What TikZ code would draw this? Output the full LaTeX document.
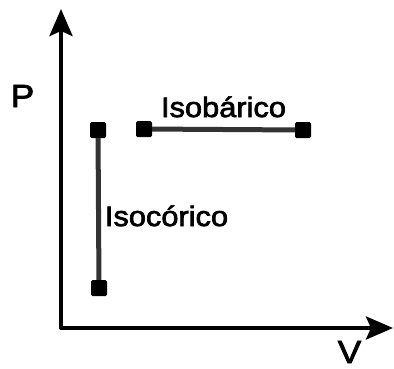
\documentclass[tikz,border=0pt]{standalone}
\usepackage{fontspec}
\setmainfont{Liberation Sans}
\newfontfamily\lblfont[FakeBold=2.5,FakeStretch=1.1]{Liberation Sans}
\usetikzlibrary{arrows.meta}
\begin{document}
\begin{tikzpicture}[x=1pt,y=-1pt,
  axis/.style={line width=4pt, line join=round, {Stealth[length=27pt,width=23pt,inset=5pt]}-{Stealth[length=27pt,width=23pt,inset=5pt]}},
  proc/.style={line width=5pt, draw=black!80},
  pt/.style={draw=none, fill=black, minimum size=16pt, inner sep=0pt, rounded corners=1.5pt},
  axlabel/.style={font=\lblfont\fontsize{32}{36}\selectfont, inner sep=0pt},
  plabel/.style={font=\lblfont\fontsize{28}{32}\selectfont, inner sep=0pt, anchor=base}]
\useasboundingbox (0,0) rectangle (394,368);
\coordinate (ytip) at (61,9);
\coordinate (orig) at (61,328);
\coordinate (xtip) at (393,328);
\draw[axis] (ytip) -- (orig) -- (xtip);
\node[axlabel] (P) at (22.5,96) {P};
\node[axlabel] (V) at (349.5,352) {V};
\node[pt] (a) at (98,130) {};
\node[pt] (b) at (99,288) {};
\node[pt] (c) at (144,129) {};
\node[pt] (d) at (303,130) {};
\draw[proc] (a) -- (b);
\draw[proc] (c) -- (d);
\node[plabel] (iso1) at (223.5,117) {Isobárico};
\node[plabel] (iso2) at (166.5,226) {Isocórico};
\end{tikzpicture}
\end{document}
